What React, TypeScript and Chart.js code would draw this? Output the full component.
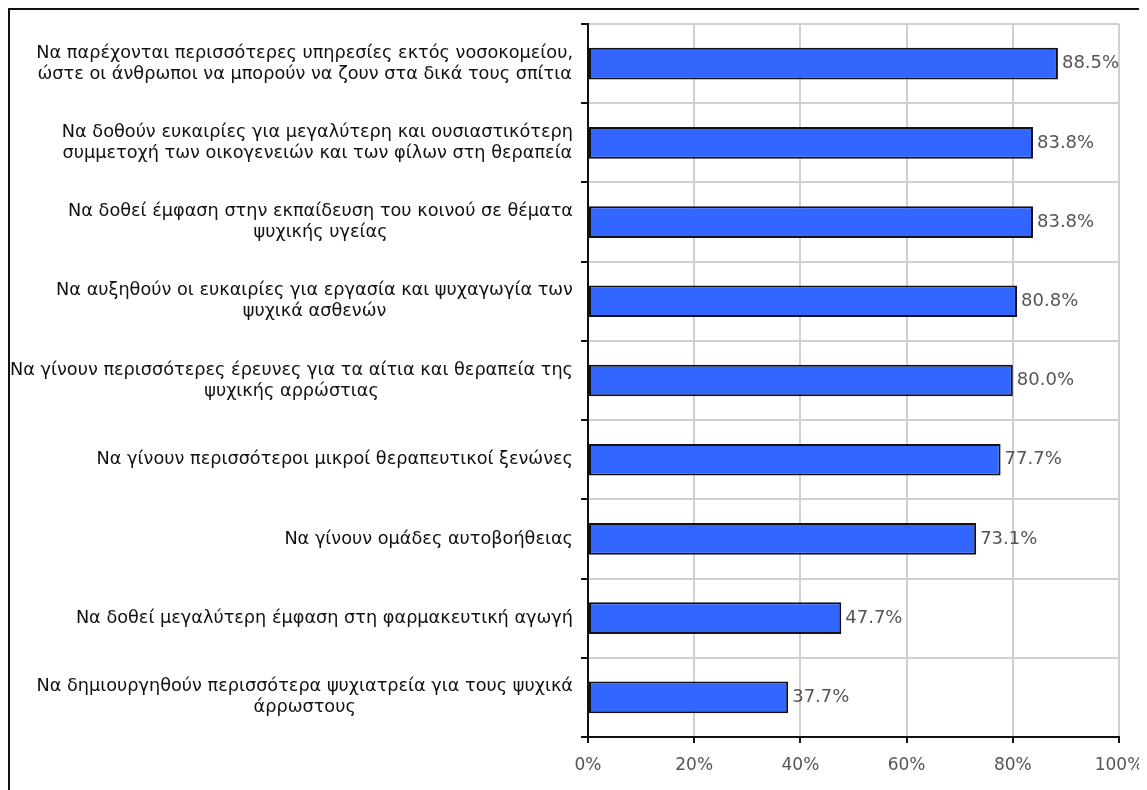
import React, { useEffect, useRef } from "react";
import { Chart, registerables } from "chart.js";

Chart.register(...registerables);

const categories: string[][] = [
  ["Να παρέχονται περισσότερες υπηρεσίες εκτός νοσοκομείου,", "ώστε οι άνθρωποι να μπορούν να ζουν στα δικά τους σπίτια"],
  ["Να δοθούν ευκαιρίες για μεγαλύτερη και ουσιαστικότερη", "συμμετοχή των οικογενειών και των φίλων στη θεραπεία"],
  ["Να δοθεί έμφαση στην εκπαίδευση του κοινού σε θέματα", "ψυχικής υγείας"],
  ["Να αυξηθούν οι ευκαιρίες για εργασία και ψυχαγωγία των", "ψυχικά ασθενών"],
  ["Να γίνουν περισσότερες έρευνες για τα αίτια και θεραπεία της", "ψυχικής αρρώστιας"],
  ["Να γίνουν περισσότεροι μικροί θεραπευτικοί ξενώνες"],
  ["Να γίνουν ομάδες αυτοβοήθειας"],
  ["Να δοθεί μεγαλύτερη έμφαση στη φαρμακευτική αγωγή"],
  ["Να δημιουργηθούν περισσότερα ψυχιατρεία για τους ψυχικά", "άρρωστους"],
];
const values: number[] = [88.5, 83.8, 83.8, 80.8, 80.0, 77.7, 73.1, 47.7, 37.7];
const xTicks: number[] = [0, 20, 40, 60, 80, 100];

const FONT = "'DejaVu Sans', Verdana, sans-serif";

const labelPlugin = {
  id: "customLabels",
  afterDraw(chart: any) {
    const ctx = chart.ctx;
    const y = chart.scales.y;
    const area = chart.chartArea;
    ctx.save();
    ctx.font = `17.7px ${FONT}`;
    ctx.fillStyle = "#111";
    ctx.textBaseline = "middle";
    ctx.textAlign = "center";
    const lineH = 21;
    const rightEdge = area.left - 15;
    categories.forEach((lines, i) => {
      const cy = y.getPixelForValue(i);
      const w = Math.max(...lines.map((l) => ctx.measureText(l).width));
      const cx = rightEdge - w / 2;
      const startY = cy - ((lines.length - 1) * lineH) / 2;
      lines.forEach((l, j) => ctx.fillText(l, cx, startY + j * lineH));
    });
    // value labels
    const meta = chart.getDatasetMeta(0);
    ctx.fillStyle = "#555";
    ctx.textAlign = "left";
    ctx.font = `18px ${FONT}`;
    meta.data.forEach((bar: any, i: number) => {
      ctx.fillText(values[i].toFixed(1) + "%", bar.x + 4, bar.y);
    });
    ctx.restore();
  },
};

export default function App() {
  const ref = useRef<HTMLCanvasElement | null>(null);
  useEffect(() => {
    document.documentElement.style.overflow = "hidden";
    document.body.style.overflow = "hidden";
    if (!ref.current) return;
    const chart = new Chart(ref.current, {
      type: "bar",
      data: {
        labels: categories.map((c) => c.join(" ")),
        datasets: [
          {
            data: values,
            backgroundColor: "#3366FF",
            borderColor: "#111",
            borderWidth: 2,
            borderSkipped: false,
            categoryPercentage: 1,
            barPercentage: 0.4,
          },
        ],
      },
      options: {
        indexAxis: "y",
        animation: false,
        responsive: false,
        devicePixelRatio: 1,
        layout: { padding: { top: 14, right: 25, left: 0, bottom: 0 } },
        plugins: { legend: { display: false }, tooltip: { enabled: false } },
        scales: {
          x: {
            min: 0,
            max: 100,
            afterBuildTicks: (scale: any) => {
              scale.ticks = xTicks.map((v) => ({ value: v }));
            },
            afterFit: (scale: any) => {
              scale.height = 63;
              scale.paddingLeft = 0;
              scale.paddingRight = 0;
            },
            ticks: {
              callback: (v: any) => v + "%",
              color: "#555",
              font: { family: FONT, size: 17 },
              padding: 12,
              maxRotation: 0,
            },
            grid: { color: "#d0d0d0", lineWidth: 2, tickColor: "#111", tickLength: 6 },
            border: { color: "#111", width: 2 },
          },
          y: {
            afterFit: (scale: any) => {
              scale.width = 578;
              scale.paddingTop = 0;
              scale.paddingBottom = 0;
            },
            ticks: { display: false },
            grid: { color: "#d0d0d0", lineWidth: 2, tickColor: "#111", tickLength: 7, offset: true },
            border: { color: "#111", width: 2 },
          },
        },
      },
      plugins: [labelPlugin],
    });
    return () => chart.destroy();
  }, []);
  return (
    <div
      style={{
        borderTop: "2px solid #111",
        borderLeft: "2px solid #111",
        borderRight: "2px solid #111",
        width: 1134,
        height: 780,
        overflow: "hidden",
        boxSizing: "content-box",
      }}
    >
      <canvas ref={ref} width={1134} height={790} style={{ display: "block" }} />
    </div>
  );
}
